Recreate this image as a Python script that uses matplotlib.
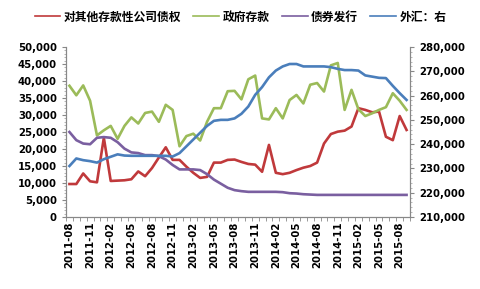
import matplotlib
matplotlib.use("Agg")
import matplotlib.pyplot as plt
from matplotlib.ticker import FuncFormatter, MultipleLocator

# monthly data, 2011-08 .. 2015-09
months = [f"{2011 + (7 + i) // 12}-{(7 + i) % 12 + 1:02d}" for i in range(50)]

claims = [9700, 9700, 12800, 10500, 10200, 23300, 10600, 10700, 10800, 11100,
          13400, 12000, 14400, 17500, 20500, 16800, 16800, 14800, 13000, 11500,
          11800, 16000, 16000, 16800, 16900, 16200, 15600, 15400, 13300, 21200,
          13000, 12600, 13000, 13800, 14500, 15000, 16000, 21600, 24400, 25100,
          25400, 26600, 32000, 31500, 30800, 31000, 23600, 22600, 29700, 25600]

gov_dep = [38600, 35800, 38700, 34200, 24000, 25500, 26800, 23000, 26800, 29300,
           27500, 30600, 31000, 28000, 33000, 31500, 20800, 23800, 24500, 22500,
           28000, 32000, 32000, 37000, 37100, 34600, 40500, 41600, 29000, 28700,
           32000, 29000, 34400, 35900, 33400, 38900, 39400, 36900, 44600, 45300,
           31500, 37400, 31700, 29700, 30500, 31500, 32300, 36400, 34200, 31500]

bonds = [25000, 22600, 21600, 21400, 23300, 23500, 23300, 22000, 20100, 19000,
         18800, 18200, 18200, 17900, 16900, 15300, 14000, 14000, 14000, 13800,
         12600, 11000, 9800, 8600, 7900, 7600, 7400, 7400, 7400, 7400,
         7400, 7300, 7000, 6900, 6700, 6600, 6500, 6500, 6500, 6500,
         6500, 6500, 6500, 6500, 6500, 6500, 6500, 6500, 6500, 6500]

fx = [231000, 234100, 233400, 233000, 232400, 233800, 234800, 235800, 235300, 235200,
      235200, 235200, 235200, 235200, 235200, 234900, 236300, 239100, 241900, 244700,
      247500, 249600, 250000, 250000, 250600, 252500, 255500, 260300, 263500, 267500,
      270300, 272000, 273000, 273000, 272000, 272000, 272000, 272000, 271700, 271000,
      270500, 270500, 270300, 268300, 267800, 267300, 267200, 264000, 261000, 258200]

names = ["对其他存款性公司债权", "政府存款", "债券发行", "外汇：右"]
colors = ["#C0393B", "#9BBB59", "#7A5FA0", "#4A7EBB"]

x = list(range(len(months)))
fmt = FuncFormatter(lambda v, p: f"{int(v):,}")

fig = plt.figure(figsize=(4.81, 2.89), dpi=100)
ax = fig.add_axes([66 / 481, 1 - 217 / 289, 344 / 481, 170 / 289])
ax2 = ax.twinx()

l1, = ax.plot(x, claims, color=colors[0], lw=1.9)
l2, = ax.plot(x, gov_dep, color=colors[1], lw=1.9)
l3, = ax.plot(x, bonds, color=colors[2], lw=1.9)
l4, = ax2.plot(x, fx, color=colors[3], lw=1.9)

ax.set_xlim(-0.5, len(months) - 0.5)
ax.set_ylim(0, 50000)
ax2.set_ylim(210000, 280000)
ax.yaxis.set_major_locator(MultipleLocator(5000))
ax2.yaxis.set_major_locator(MultipleLocator(10000))
ax.yaxis.set_major_formatter(fmt)
ax2.yaxis.set_major_formatter(fmt)

ax.set_xticks(x[::3])
ax.set_xticklabels(months[::3], rotation=90)
ax.set_xticks([i - 0.5 for i in range(len(months) + 1)], minor=True)

for a in (ax, ax2):
    a.spines["top"].set_visible(False)
    for s in a.spines.values():
        s.set_color("#888888")
        s.set_linewidth(0.8)
    a.tick_params(colors="#888888", labelcolor="black", length=3, width=0.8, labelsize=7.3)
    for t in a.get_xticklabels() + a.get_yticklabels():
        t.set_fontweight("bold")
ax.tick_params(axis="x", which="major", length=0)
ax.tick_params(axis="x", which="minor", length=3, color="#888888")
ax.yaxis.set_minor_locator(MultipleLocator(1000))
ax2.yaxis.set_minor_locator(MultipleLocator(2000))
ax.tick_params(axis="y", which="minor", length=1.5, color="#aaaaaa")
ax2.tick_params(axis="y", which="minor", length=1.5, color="#aaaaaa")

fig.legend([l1, l2, l3, l4], names, loc="center", bbox_to_anchor=(0.5, 1 - 17 / 289),
           ncol=4, frameon=False, handlelength=2.2, handletextpad=0.3, columnspacing=1.0,
           prop={"family": ["Noto Sans CJK SC", "DejaVu Sans"], "weight": "bold", "size": 8.5})
for h in fig.legends[0].get_lines():
    h.set_linewidth(1.2)

fig.savefig("out.png", dpi=100)
